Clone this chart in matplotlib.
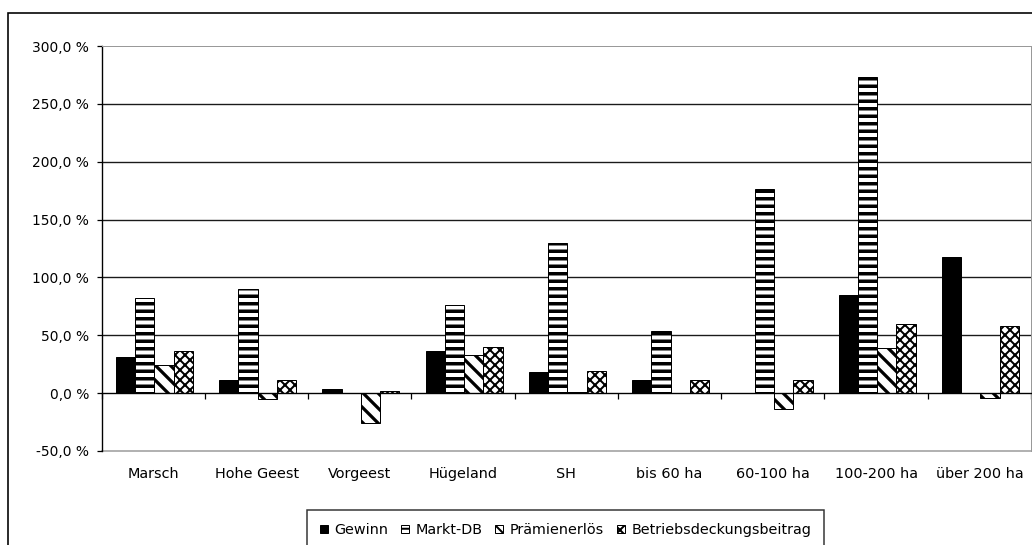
import matplotlib.pyplot as plt
import matplotlib.transforms as mtransforms
from matplotlib.patches import Rectangle
import numpy as np

plt.rcParams['font.family'] = ['DejaVu Sans']

categories = ["Marsch", "Hohe Geest", "Vorgeest", "Hügeland", "SH",
              "bis 60 ha", "60-100 ha", "100-200 ha", "über 200 ha"]
gewinn = [31, 11, 4, 36, 18, 11, 0, 85, 118]
markt_db = [82, 90, 0, 76, 130, 54, 176, 273, 0]
praemien = [24, -5, -26, 33, 1, 0, -14, 39, -4]
betrieb = [36, 11, 2, 40, 19, 11, 11, 60, 58]

series = [("Gewinn", gewinn), ("Markt-DB", markt_db),
          ("Prämienerlös", praemien), ("Betriebsdeckungsbeitrag", betrieb)]
# face, hatch, hatch linewidth
styles = [("black", None, 1.0), ("white", "--", 2.8),
          ("white", "\\\\", 2.6), ("white", "xxx", 1.6)]

W, H, DPI = 1032, 545, 90
fig = plt.figure(figsize=(W / DPI, H / DPI), dpi=DPI)
ax = fig.add_axes([101.7 / W, 1 - 451 / H, (1031 - 101.7) / W, (451 - 46) / H])

x = np.arange(len(categories))
w = 0.187
handles = []
for k, (name, vals) in enumerate(series):
    face, hatch, hlw = styles[k]
    plt.rcParams['hatch.linewidth'] = hlw
    bars = ax.bar(x + (k - 1.5) * w + 0.01, vals, w, color=face,
                  edgecolor="black", linewidth=0.8, hatch=hatch,
                  label=name, zorder=3)
    for b in bars:
        if hasattr(b, "set_hatch_linewidth"):
            b.set_hatch_linewidth(hlw)
    handles.append(bars)

ax.set_xlim(-0.5, len(categories) - 0.5)
ax.set_ylim(-50, 300)

# grid
for v in [50, 100, 150, 200, 250]:
    ax.axhline(v, color="#1a1a1a", lw=1.1, zorder=1)
ax.axhline(-50, color="#999999", lw=1.2, zorder=1, clip_on=False)

ax.spines['top'].set_color("#999999")
ax.spines['right'].set_color("#999999")
ax.spines['left'].set_linewidth(1.1)
ax.spines['bottom'].set_position(('data', 0))
ax.spines['bottom'].set_linewidth(1.1)
ax.spines['bottom'].set_zorder(4)

yt = [-50, 0, 50, 100, 150, 200, 250, 300]
ax.set_yticks(yt)
ax.set_yticklabels([f"{v:.1f}".replace(".", ",") + " %" for v in yt])
ax.tick_params(axis='y', direction='out', length=4, width=1, pad=6,
               labelsize=11)
ax.set_xticks(np.arange(-0.5, len(categories), 1.0))
ax.set_xticklabels([])
ax.tick_params(axis='x', direction='out', length=5, width=1)

trans = mtransforms.blended_transform_factory(ax.transData, ax.transAxes)
for i, c in enumerate(categories):
    ax.text(i, -0.058, c, transform=trans, ha='center', va='center',
            fontsize=11.5)

leg = fig.legend(handles=handles, loc='upper center',
                 bbox_to_anchor=(565.5 / W, 1 - 510 / H), ncol=4,
                 frameon=True, fancybox=False, edgecolor="black",
                 fontsize=11.5, handlelength=0.55, handleheight=0.55,
                 handletextpad=0.45, columnspacing=0.9, borderpad=0.9,
                 borderaxespad=0)
leg.get_frame().set_linewidth(1.2)

# outer chart border
fig.patches.append(Rectangle((8 / W, -0.1), 1.2, 1.1 - 13 / H,
                             transform=fig.transFigure, fill=False,
                             edgecolor="black", lw=1.3))

fig.savefig("out.png", dpi=DPI)
